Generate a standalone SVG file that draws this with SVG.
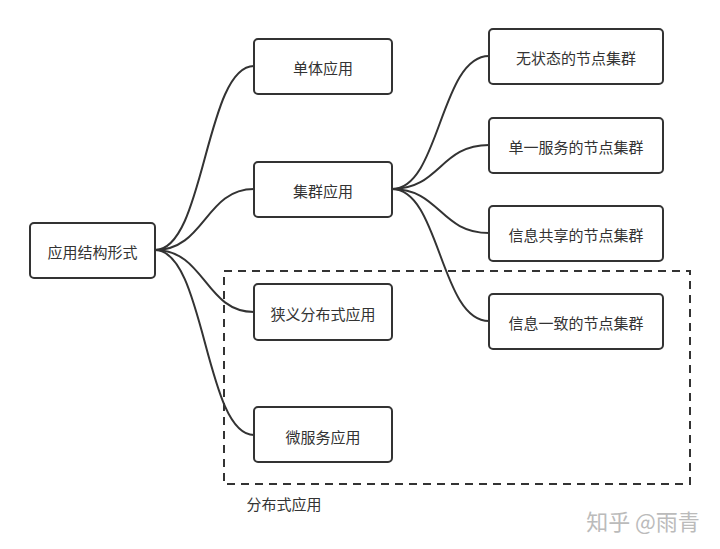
<svg xmlns="http://www.w3.org/2000/svg" width="720" height="549" viewBox="0 0 720 549">
<style>
.box{fill:#fff;stroke:#333;stroke-width:2}
.t{font-family:"Noto Sans CJK SC","Noto Sans",sans-serif;font-size:15px;fill:#333;text-anchor:middle;dominant-baseline:central}
.c{fill:none;stroke:#333;stroke-width:2}
</style>
<rect width="720" height="549" fill="#fff"/>
<g id="connectors">
<path class="c" d="M155,250 C205,250 205,66 254,66"/>
<path class="c" d="M155,250 C205,250 205,189 254,189"/>
<path class="c" d="M155,250 C205,250 205,312 254,312"/>
<path class="c" d="M155,250 C205,250 205,435 254,435"/>
<path class="c" d="M392,189 C440,189 440,56 489,56"/>
<path class="c" d="M392,189 C440,189 440,145 489,145"/>
<path class="c" d="M392,189 C440,189 440,233 489,233"/>
<path class="c" d="M392,189 C440,189 440,321 489,321"/>
</g>
<g id="group-distributed">
<rect x="224" y="271" width="466" height="213" fill="none" stroke="#333" stroke-width="2" stroke-dasharray="8,6"/>
<text class="t" x="284" y="503">分布式应用</text>
</g>
<g id="root"><rect class="box" x="30" y="223" width="125" height="55" rx="4"/><text class="t" x="92.5" y="251">应用结构形式</text></g>
<g id="n-single"><rect class="box" x="254" y="39" width="138" height="55" rx="4"/><text class="t" x="323" y="67">单体应用</text></g>
<g id="n-cluster"><rect class="box" x="254" y="162" width="138" height="55" rx="4"/><text class="t" x="323" y="190">集群应用</text></g>
<g id="n-narrow"><rect class="box" x="254" y="284" width="138" height="56" rx="4"/><text class="t" x="323" y="313">狭义分布式应用</text></g>
<g id="n-micro"><rect class="box" x="254" y="407" width="138" height="55" rx="4"/><text class="t" x="323" y="436">微服务应用</text></g>
<g id="c-stateless"><rect class="box" x="489" y="29" width="174" height="55" rx="4"/><text class="t" x="576" y="57">无状态的节点集群</text></g>
<g id="c-single"><rect class="box" x="489" y="118" width="174" height="55" rx="4"/><text class="t" x="576" y="146">单一服务的节点集群</text></g>
<g id="c-shared"><rect class="box" x="489" y="206" width="174" height="55" rx="4"/><text class="t" x="576" y="234">信息共享的节点集群</text></g>
<g id="c-consistent"><rect class="box" x="489" y="294" width="174" height="55" rx="4"/><text class="t" x="576" y="322">信息一致的节点集群</text></g>
<text x="643" y="520" font-family="Noto Sans CJK SC,sans-serif" font-size="22" fill="#bbb" text-anchor="middle" dominant-baseline="central">知乎 @雨青</text>
</svg>
